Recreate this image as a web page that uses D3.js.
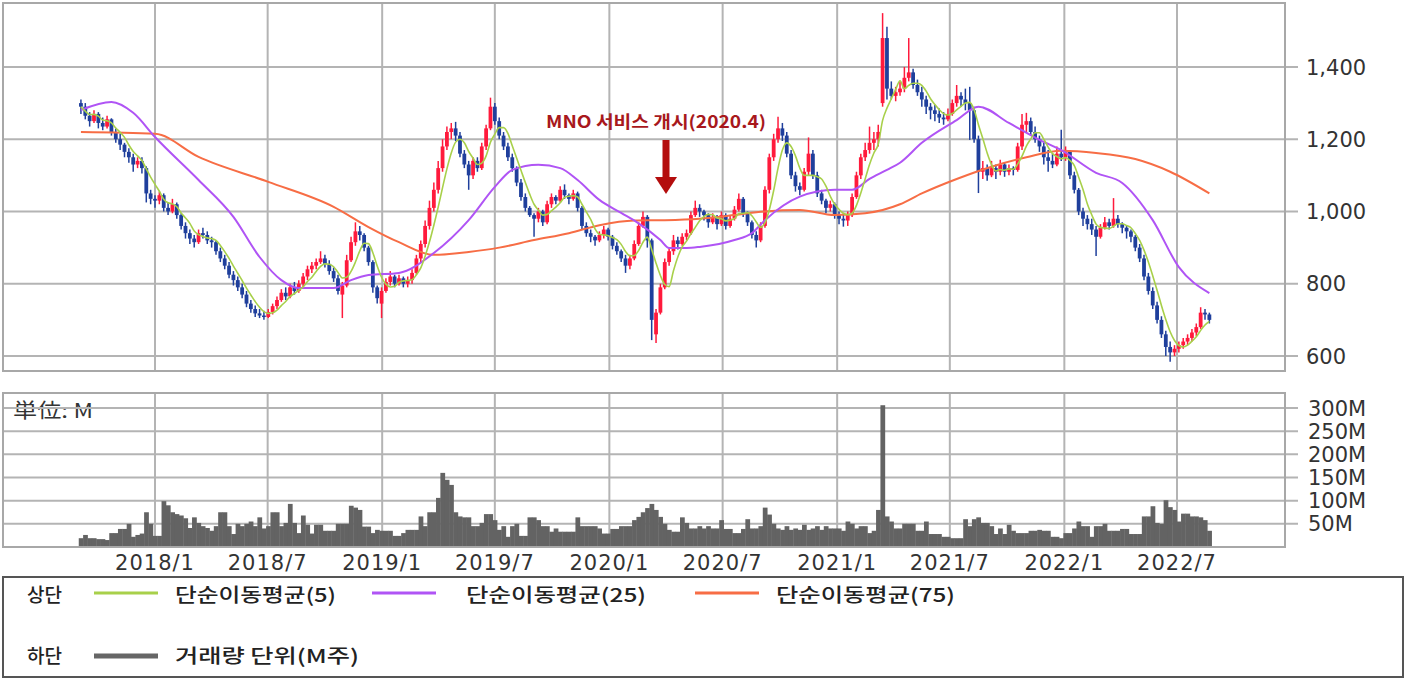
<!DOCTYPE html>
<html><head><meta charset="utf-8">
<script src="https://cdn.jsdelivr.net/npm/d3@7/dist/d3.min.js"></script>
<style>html,body{margin:0;padding:0;background:#fff}svg{display:block}</style>
</head><body><svg id="chart" width="1406" height="680"></svg>
<script>
// ---------- DATA ----------
const firstWeek = "2017-09-04";   // weekly candles, one per week from this date
// [open, high, low, close]
const candles = [
[1300,1310,1270,1290],[1290,1300,1255,1265],[1265,1275,1235,1250],[1250,1280,1245,1270],[1270,1275,1230,1245],
[1245,1260,1225,1235],[1235,1265,1230,1255],[1255,1258,1210,1220],[1220,1230,1190,1200],[1200,1215,1170,1185],
[1185,1190,1150,1165],[1165,1175,1135,1150],[1150,1160,1110,1130],[1130,1150,1120,1140],[1140,1150,1105,1120],
[1120,1125,1025,1050],[1050,1060,1020,1035],[1035,1045,1010,1030],[1030,1055,1020,1045],[1045,1050,1000,1010],
[1010,1025,990,1000],[1000,1035,995,1020],[1020,1025,980,990],[990,995,950,960],[960,970,925,940],
[940,950,910,925],[925,935,900,915],[915,950,910,940],[940,955,925,935],[935,945,910,920],
[920,930,900,915],[915,920,880,890],[890,900,860,870],[870,880,840,850],[850,860,815,825],
[825,835,795,810],[810,820,780,790],[790,800,760,770],[770,780,735,745],[745,755,720,730],
[730,740,708,718],[718,730,705,712],[712,725,700,708],[708,730,705,722],[722,745,715,738],
[738,765,730,755],[755,785,750,775],[775,790,755,765],[765,800,760,790],[790,805,770,780],
[780,810,775,800],[800,830,790,820],[820,850,810,840],[840,860,830,850],[850,870,840,860],
[860,890,855,870],[870,880,845,855],[855,865,825,835],[835,845,805,815],[815,825,770,780],
[770,805,705,795],[795,880,790,865],[865,930,860,915],[915,970,905,945],[945,960,920,935],
[935,940,890,900],[900,905,850,860],[860,865,775,790],[790,795,745,760],[745,790,705,780],
[780,815,775,805],[805,835,795,820],[820,825,790,800],[800,825,795,815],[815,820,790,800],
[800,820,790,810],[810,840,800,830],[830,880,825,870],[870,920,860,910],[910,975,900,960],
[960,1030,950,1010],[1010,1080,1000,1060],[1060,1140,1050,1120],[1120,1200,1110,1180],[1180,1235,1170,1220],
[1220,1245,1200,1230],[1230,1248,1195,1210],[1210,1220,1150,1160],[1160,1170,1120,1130],[1130,1140,1060,1100],
[1100,1150,1090,1140],[1140,1150,1110,1120],[1120,1190,1115,1180],[1180,1240,1170,1230],[1230,1315,1225,1290],
[1290,1300,1240,1250],[1250,1260,1200,1210],[1210,1220,1170,1180],[1180,1190,1140,1150],[1150,1160,1110,1120],
[1120,1125,1070,1080],[1080,1090,1030,1040],[1040,1050,1000,1010],[1010,1015,985,990],[990,995,930,980],
[980,1010,970,1000],[1000,1005,960,970],[970,1030,965,1020],[1020,1050,1010,1040],[1040,1045,1020,1030],
[1030,1070,1025,1060],[1060,1075,1035,1045],[1045,1050,1020,1035],[1035,1060,1030,1050],[1050,1055,1000,1010],
[1010,1015,950,960],[960,970,930,940],[940,950,915,930],[930,935,905,920],[920,945,915,935],
[935,960,925,950],[950,955,920,930],[930,935,895,905],[905,915,880,890],[890,895,860,870],
[870,880,830,850],[850,880,840,870],[870,920,865,910],[910,970,905,960],[960,1000,955,985],
[985,990,900,920],[920,925,644,700],[660,730,636,720],[720,800,715,790],[790,870,785,860],
[860,900,850,890],[890,935,880,920],[920,930,895,910],[910,940,905,930],[930,950,920,940],
[940,1000,935,990],[990,1030,985,1010],[1010,1020,985,1000],[1000,1005,975,990],[990,995,955,970],
[970,995,965,985],[985,990,950,965],[965,1000,960,990],[990,995,950,960],[960,990,955,980],
[980,1015,975,1005],[1005,1050,1000,1035],[1035,1040,985,995],[995,1000,960,970],[970,975,925,935],
[935,945,900,920],[920,970,915,960],[960,1070,955,1060],[1060,1160,1050,1150],[1150,1215,1140,1200],
[1200,1262,1190,1230],[1230,1245,1195,1210],[1210,1220,1150,1160],[1160,1170,1090,1100],[1100,1110,1055,1070],
[1070,1080,1045,1060],[1060,1120,1055,1110],[1110,1205,1100,1160],[1160,1170,1090,1100],[1100,1110,1040,1050],
[1050,1060,1020,1030],[1030,1035,995,1010],[1010,1030,1000,1020],[1020,1025,980,990],[990,1000,965,980],
[980,995,958,975],[975,1000,960,990],[990,1050,985,1040],[1040,1110,1035,1100],[1100,1160,1090,1150],
[1150,1190,1140,1170],[1170,1235,1160,1190],[1190,1220,1170,1200],[1200,1240,1180,1220],[1300,1549,1290,1480],
[1480,1511,1310,1340],[1340,1360,1310,1320],[1320,1345,1305,1330],[1330,1360,1320,1340],[1340,1400,1330,1370],
[1370,1480,1360,1385],[1385,1395,1340,1350],[1350,1365,1320,1330],[1330,1345,1290,1310],[1310,1320,1270,1290],
[1290,1300,1255,1280],[1280,1295,1250,1270],[1270,1285,1245,1260],[1260,1275,1240,1255],[1255,1285,1250,1270],
[1270,1310,1265,1300],[1300,1350,1290,1320],[1320,1330,1290,1310],[1310,1340,1280,1300],[1300,1345,1198,1280],
[1280,1290,1190,1200],[1200,1210,1051,1110],[1110,1140,1090,1120],[1120,1130,1085,1100],[1100,1140,1095,1120],
[1120,1130,1090,1110],[1110,1143,1100,1130],[1130,1135,1096,1110],[1110,1130,1100,1120],[1120,1125,1100,1115],
[1115,1190,1110,1180],[1180,1270,1170,1240],[1240,1273,1220,1250],[1250,1260,1210,1220],[1220,1235,1190,1200],
[1200,1210,1165,1180],[1180,1190,1130,1150],[1150,1170,1110,1140],[1140,1160,1120,1130],[1130,1180,1125,1160],
[1160,1226,1140,1150],[1150,1180,1140,1165],[1165,1170,1090,1100],[1100,1110,1050,1060],[1060,1065,990,1000],
[1000,1010,960,980],[980,990,950,965],[965,980,935,950],[950,960,877,930],[930,965,925,955],
[955,985,950,970],[970,980,950,960],[960,1037,955,980],[980,990,955,965],[965,970,940,955],
[955,960,925,945],[945,950,915,930],[930,935,890,900],[900,910,860,870],[870,880,810,820],
[820,830,770,780],[780,790,730,740],[740,750,690,700],[700,710,650,660],[660,670,600,625],
[625,640,584,610],[610,630,600,620],[620,640,610,630],[630,650,620,640],[640,660,630,650],
[650,675,640,665],[665,690,655,680],[680,735,675,720],[720,730,700,715],[715,720,690,700]
];
// weekly volume, millions of shares
const volumes = [
19,26,19,19,17,17,15,30,30,39, 39,50,22,26,29,75,50,24,24,99,
90,75,71,68,62,41,64,52,45,41, 35,45,75,75,45,28,50,45,50,55,
45,64,40,45,75,75,45,52,93,52, 30,68,48,29,48,48,35,35,35,50,
50,50,89,85,80,44,44,30,37,35, 35,35,24,24,30,37,37,37,66,45,
75,75,106,160,145,134,75,66,64,64, 45,45,52,71,71,58,37,45,22,45,
50,24,24,64,64,58,45,45,33,40, 33,33,33,33,64,45,45,45,45,40,
29,29,39,39,45,45,45,58,65,75, 84,93,80,65,50,37,33,33,64,52,
40,40,45,40,45,40,40,58,39,39, 30,30,39,60,40,40,45,85,70,50,
40,37,45,37,40,37,48,37,40,45, 37,45,40,40,40,35,55,50,40,45,
45,30,35,80,306,66,55,40,40,50, 50,50,35,35,55,28,28,28,22,22,
19,19,19,60,45,60,64,52,52,45, 28,40,28,48,35,30,30,30,35,35,
37,35,35,22,22,19,30,30,40,55, 45,45,22,45,45,50,35,35,35,39,
39,28,28,28,66,66,88,52,50,101, 86,80,55,72,72,66,66,64,58,35
];
// moving averages: [week index, value]
const ma25Points = [[0,1281],[7,1303],[12,1273],[17,1206],[27,1087],[35,985],[41,874],[46,810],[50,788],[58,788],[62,810],[66,824],[73,830],[81,885],[89,976],[95,1068],[99,1115],[105,1129],[110,1120],[114,1087],[119,1032],[124,996],[128,967],[133,921],[135,899],[139,899],[142,902],[150,921],[154,940],[157,976],[165,1041],[173,1060],[177,1060],[181,1090],[185,1115],[188,1135],[193,1190],[201,1253],[206,1290],[213,1245],[220,1198],[225,1170],[233,1107],[239,1079],[246,976],[252,846],[259,774]];
const ma75Points = [[0,1220],[17,1215],[27,1151],[43,1082],[58,1013],[66,957],[73,915],[81,880],[89,888],[96,900],[104,921],[112,940],[119,962],[127,975],[134,976],[142,980],[150,990],[157,1000],[165,1004],[173,990],[180,995],[188,1020],[193,1050],[201,1090],[209,1124],[217,1150],[225,1168],[233,1162],[242,1145],[250,1110],[259,1050]];
const priceTicks = [600, 800, 1000, 1200, 1400];
const volumeTicks = [50, 100, 150, 200, 250, 300];
const xTickDates = ["2018-01-01","2018-07-01","2019-01-01","2019-07-01","2020-01-01","2020-07-01","2021-01-01","2021-07-01","2022-01-01","2022-07-01"];
const xTickLabels = ["2018/1","2018/7","2019/1","2019/7","2020/1","2020/7","2021/1","2021/7","2022/1","2022/7"];
const legendTopLabels = ["단순이동평균(5)","단순이동평균(25)","단순이동평균(75)"];
const legendTopColors = ["#a8d04a","#b054f5","#f76d45"];
const annotationText = "MNO 서비스 개시(2020.4)";
const annotationDate = "2020-04-01";

// ---------- CHART ----------
const parse = d3.timeParse("%Y-%m-%d");
const start = parse(firstWeek);
const weekDate = i => d3.timeDay.offset(start, 7 * i);
const closes = candles.map(d => d[3]);
const ma5 = closes.map((c, i) => d3.mean(closes.slice(Math.max(0, i - 4), i + 1)));

const svg = d3.select("#chart");
const P = {l: 3, r: 1285, t: 3, b: 371};
const V = {l: 3, r: 1285, t: 393, b: 547};

const x = d3.scaleTime().domain([parse("2018-01-01"), parse("2022-07-01")]).range([155, 1177]);
const y = d3.scaleLinear().domain([558.5, 1577]).range([P.b, P.t]);
const yv = d3.scaleLinear().domain([0, 332.4]).range([V.b, V.t]);

const gridCol = "#b4b4b4", textCol = "#333";
const tickFont = "'DejaVu Sans', Verdana, sans-serif";

// price panel grid
const gp = svg.append("g");
gp.selectAll("line.h").data(priceTicks).join("line")
  .attr("x1", P.l).attr("x2", P.r + 13).attr("y1", d => y(d)).attr("y2", d => y(d))
  .attr("stroke", gridCol).attr("stroke-width", 2);
gp.selectAll("line.v").data(xTickDates).join("line")
  .attr("x1", d => x(parse(d))).attr("x2", d => x(parse(d))).attr("y1", P.t).attr("y2", P.b)
  .attr("stroke", gridCol).attr("stroke-width", 2);
gp.append("rect").attr("x", P.l).attr("y", P.t).attr("width", P.r - P.l).attr("height", P.b - P.t)
  .attr("fill", "none").attr("stroke", "#a8a8a8").attr("stroke-width", 2);
gp.selectAll("text").data(priceTicks).join("text")
  .attr("x", 1306).attr("y", d => y(d)).attr("dy", "0.36em")
  .attr("font-family", tickFont).attr("font-size", 21).attr("fill", textCol)
  .text(d => d3.format(",")(d));

// volume panel
const gv = svg.append("g");
gv.append("text").attr("x", 13).attr("y", 418).attr("font-family", "'Noto Sans CJK JP', sans-serif")
  .attr("font-size", 20).attr("fill", "#333").attr("textLength", 80).attr("lengthAdjust", "spacingAndGlyphs").text("単位: M");
gv.selectAll("line.h").data(volumeTicks).join("line")
  .attr("x1", V.l).attr("x2", V.r + 13).attr("y1", d => yv(d)).attr("y2", d => yv(d))
  .attr("stroke", gridCol).attr("stroke-width", 2);
gv.selectAll("line.v").data(xTickDates).join("line")
  .attr("x1", d => x(parse(d))).attr("x2", d => x(parse(d))).attr("y1", V.t).attr("y2", V.b)
  .attr("stroke", gridCol).attr("stroke-width", 2);
const step = x(weekDate(1)) - x(weekDate(0));
gv.selectAll("rect.vol").data(volumes).join("rect")
  .attr("x", (d, i) => x(weekDate(i)) - step / 2).attr("width", step + 0.4)
  .attr("y", d => yv(d)).attr("height", d => V.b - yv(d)).attr("fill", "#636363");
gv.append("rect").attr("x", V.l).attr("y", V.t).attr("width", V.r - V.l).attr("height", V.b - V.t)
  .attr("fill", "none").attr("stroke", "#a8a8a8").attr("stroke-width", 2);
gv.selectAll("text.vt").data(volumeTicks).join("text")
  .attr("x", 1308).attr("y", d => yv(d)).attr("dy", "0.36em")
  .attr("font-family", tickFont).attr("font-size", 21).attr("fill", textCol)
  .text(d => d + "M");

// x labels
svg.append("g").selectAll("text").data(xTickDates).join("text")
  .attr("x", d => x(parse(d))).attr("y", 570).attr("text-anchor", "middle")
  .attr("font-family", tickFont).attr("font-size", 21).attr("letter-spacing", 1).attr("fill", textCol)
  .text((d, i) => xTickLabels[i]);

// candles
const up = "#ff1a3c", down = "#1f3f9c";
const gc = svg.append("g");
gc.selectAll("line").data(candles).join("line")
  .attr("x1", (d, i) => x(weekDate(i))).attr("x2", (d, i) => x(weekDate(i)))
  .attr("y1", d => y(d[1])).attr("y2", d => y(d[2]))
  .attr("stroke", d => d[3] >= d[0] ? up : down).attr("stroke-width", 1.5);
gc.selectAll("rect").data(candles).join("rect")
  .attr("x", (d, i) => x(weekDate(i)) - 1.9).attr("width", 3.8)
  .attr("y", d => y(Math.max(d[0], d[3])))
  .attr("height", d => Math.max(1.5, Math.abs(y(d[0]) - y(d[3]))))
  .attr("fill", d => d[3] >= d[0] ? up : down);

// moving averages
const lineGen = d3.line().x(d => x(weekDate(d[0]))).y(d => y(d[1])).curve(d3.curveMonotoneX);
svg.append("path").datum(ma75Points).attr("d", lineGen).attr("fill", "none")
  .attr("stroke", legendTopColors[2]).attr("stroke-width", 2);
svg.append("path").datum(ma25Points).attr("d", lineGen).attr("fill", "none")
  .attr("stroke", legendTopColors[1]).attr("stroke-width", 2);
svg.append("path").datum(ma5.map((v, i) => [i, v])).attr("d", lineGen).attr("fill", "none")
  .attr("stroke", legendTopColors[0]).attr("stroke-width", 1.6);

// annotation
const ax = x(parse(annotationDate));
svg.append("text").attr("x", ax - 120).attr("y", 128)
  .attr("font-family", "'Noto Sans CJK KR', sans-serif").attr("font-weight", 700).attr("font-size", 17)
  .attr("fill", "#a8181c").attr("textLength", 220).attr("lengthAdjust", "spacingAndGlyphs").text(annotationText);
svg.append("rect").attr("x", ax - 3.5).attr("y", 140).attr("width", 7).attr("height", 39).attr("fill", "#b40d0d");
svg.append("path").attr("d", `M${ax - 11},177 L${ax + 11},177 L${ax},194 Z`).attr("fill", "#b40d0d");

// legend
const lg = svg.append("g");
lg.append("rect").attr("x", 3).attr("y", 577).attr("width", 1400).attr("height", 100)
  .attr("fill", "#fff").attr("stroke", "#555").attr("stroke-width", 2);
const lf = "'Noto Sans CJK KR', sans-serif";
lg.append("text").attr("x", 27).attr("y", 602).attr("font-family", lf).attr("font-size", 19).attr("font-weight", 500).attr("fill", "#222").text("상단");
const lineX = [94, 372, 695], textX = [175, 466, 776], textW = [161, 180, 179];
legendTopLabels.forEach((t, i) => {
  lg.append("line").attr("x1", lineX[i]).attr("x2", lineX[i] + 64).attr("y1", 593).attr("y2", 593)
    .attr("stroke", legendTopColors[i]).attr("stroke-width", 3);
  lg.append("text").attr("x", textX[i]).attr("y", 602).attr("font-family", lf).attr("font-size", 19)
    .attr("font-weight", 500).attr("fill", "#222").attr("textLength", textW[i]).attr("lengthAdjust", "spacingAndGlyphs").text(t);
});
lg.append("text").attr("x", 27).attr("y", 663).attr("font-family", lf).attr("font-size", 19).attr("font-weight", 500).attr("fill", "#222").text("하단");
lg.append("line").attr("x1", 94).attr("x2", 158).attr("y1", 656).attr("y2", 656).attr("stroke", "#666").attr("stroke-width", 5);
lg.append("text").attr("x", 175).attr("y", 663).attr("font-family", lf).attr("font-size", 19).attr("font-weight", 500)
  .attr("fill", "#222").attr("textLength", 184).attr("lengthAdjust", "spacingAndGlyphs").text("거래량 단위(M주)");
</script></body></html>
